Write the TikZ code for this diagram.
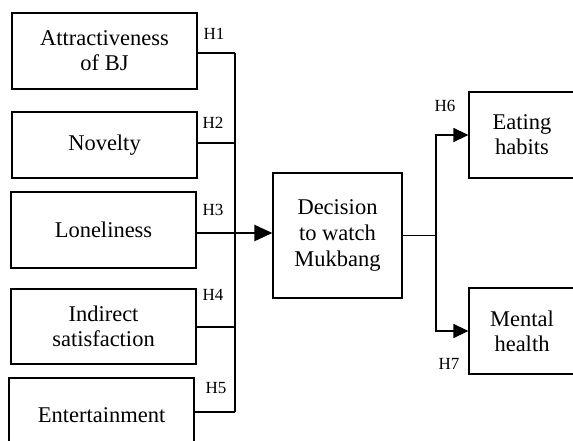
\documentclass[tikz,border=0pt]{standalone}
\usepackage{fontspec}
\setmainfont{Liberation Serif}
\usetikzlibrary{arrows.meta}
\begin{document}
\begin{tikzpicture}[x=1pt,y=-1pt,
 box/.style={draw,line width=1.2pt,inner sep=0pt,align=center,font=\fontsize{22.5}{25}\selectfont},
 hlab/.style={font=\fontsize{17}{20}\selectfont,inner sep=0pt},
 link/.style={line width=1.2pt},
 bigarrow/.style={line width=2.2pt,-{Triangle[length=18pt,width=16pt]}},
 smallarrow/.style={line width=1.2pt,-{Triangle[length=15pt,width=14pt]}}]
\useasboundingbox (0,0) rectangle (573,441);
\clip (0,0) rectangle (573,441);
\fill[white] (0,0) rectangle (573,441);
% left boxes
\node[box,minimum width=185pt,minimum height=76pt] (b1) at (104.5,51) {Attractiveness\\of BJ};
\node[box,minimum width=185pt,minimum height=66pt] (b2) at (104.5,145) {Novelty};
\node[box,minimum width=185pt,minimum height=76pt] (b3) at (103.5,230) {Loneliness};
\node[box,minimum width=185pt,minimum height=75pt] (b4) at (103.5,326.5) {Indirect\\satisfaction};
\node[box,minimum width=185pt,minimum height=74pt] (b5) at (101.5,415) {Entertainment};
% centre and right boxes
\node[box,minimum width=129pt,minimum height=125pt,font=\fontsize{22.5}{26}\selectfont] (dec) at (337.5,235.5) {\rule{0pt}{8pt}Decision\\to watch\\Mukbang};
\node[box,minimum width=106pt,minimum height=86pt] (eat) at (522,135) {Eating\\habits};
\node[box,minimum width=106pt,minimum height=86pt] (ment) at (522,331) {Mental\\health};
% connection points
\coordinate (bus) at (235,0);
\coordinate (split) at (436,0);
\coordinate (p1) at ([yshift=-2pt]b1.east);
\coordinate (p2) at ([yshift=2pt]b2.east);
\coordinate (p3) at ([yshift=-3pt]b3.east);
\coordinate (p4) at ([yshift=-0.5pt]b4.east);
\coordinate (p5) at ([yshift=3pt]b5.east);
\draw[link] (p1) -- (p1 -| bus);
\draw[link] (p2) -- (p2 -| bus);
\draw[link] (p3) -- (p3 -| bus);
\draw[link] (p4) -- (p4 -| bus);
\draw[link] (p5) -- (p5 -| bus);
\draw[link] (p1 -| bus) -- (p5 -| bus);
\draw[bigarrow] (p3 -| bus) -- (p3 -| dec.west);
\draw[link] (dec.east) -- (dec.east -| split);
\draw[smallarrow] (dec.east -| split) |- (eat.west);
\draw[smallarrow] (dec.east -| split) |- (ment.west);
% labels
\node[hlab] (h1) at (214,34) {H1};
\node[hlab] (h2) at (213,123) {H2};
\node[hlab] (h3) at (213,210) {H3};
\node[hlab] (h4) at (213,295) {H4};
\node[hlab] (h5) at (216,388) {H5};
\node[hlab] (h6) at (445,106) {H6};
\node[hlab] (h7) at (449,364) {H7};
\end{tikzpicture}
\end{document}
